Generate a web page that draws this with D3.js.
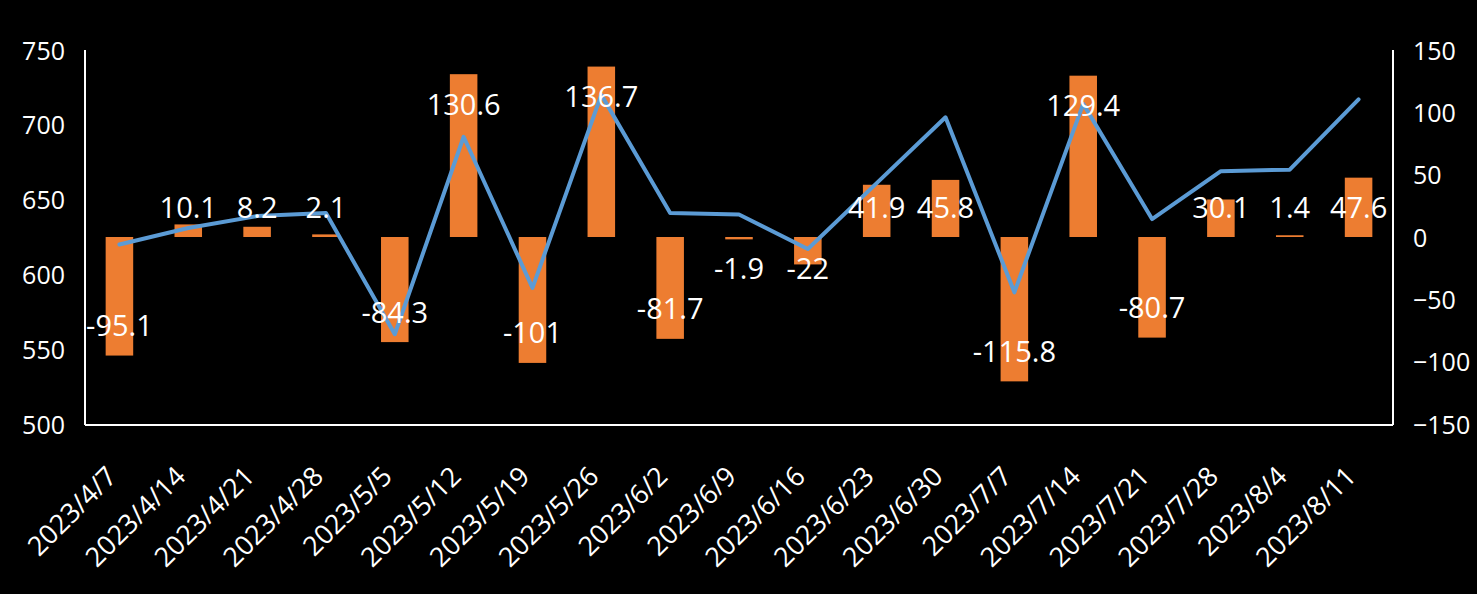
<!DOCTYPE html>
<html>
<head>
<meta charset="utf-8">
<script src="https://cdn.jsdelivr.net/npm/d3@7"></script>
<style>
  html, body { margin: 0; padding: 0; background: #000; }
  svg { display: block; }
</style>
</head>
<body>
<svg id="chart" width="1477" height="594"></svg>
<script>
// ---- data ----
const categories = ["2023/4/7","2023/4/14","2023/4/21","2023/4/28","2023/5/5","2023/5/12","2023/5/19","2023/5/26","2023/6/2","2023/6/9","2023/6/16","2023/6/23","2023/6/30","2023/7/7","2023/7/14","2023/7/21","2023/7/28","2023/8/4","2023/8/11"];
const barValues = [-95.1, 10.1, 8.2, 2.1, -84.3, 130.6, -101, 136.7, -81.7, -1.9, -22, 41.9, 45.8, -115.8, 129.4, -80.7, 30.1, 1.4, 47.6];
const lineValues = [620, 631, 639, 641, 560, 692, 591, 720, 641, 640, 617, 661, 705, 588, 714, 637, 669, 670, 717];
const leftTicks = [500, 550, 600, 650, 700, 750];
const rightTicks = [-150, -100, -50, 0, 50, 100, 150];

// ---- layout ----
const W = 1477, H = 594;
const plot = { left: 85, right: 1393, top: 50, bottom: 424 };
const font = "'Open Sans', 'Noto Sans', sans-serif";

const svg = d3.select("#chart");
svg.append("rect").attr("width", W).attr("height", H).attr("fill", "#000");

const x = d3.scaleBand().domain(categories).range([plot.left, plot.right]).paddingInner(0.6).paddingOuter(0.3);
const yL = d3.scaleLinear().domain([500, 750]).range([plot.bottom, plot.top]);
const yR = d3.scaleLinear().domain([-150, 150]).range([plot.bottom, plot.top]);

// bars
svg.append("g").selectAll("rect").data(barValues).join("rect")
  .attr("x", (d, i) => x(categories[i]))
  .attr("width", x.bandwidth())
  .attr("y", d => Math.min(yR(d), yR(0)))
  .attr("height", d => Math.abs(yR(d) - yR(0)))
  .attr("fill", "#ED7D31");

// line
const line = d3.line()
  .x((d, i) => x(categories[i]) + x.bandwidth() / 2)
  .y(d => yL(d));
svg.append("path").datum(lineValues)
  .attr("d", line)
  .attr("fill", "none")
  .attr("stroke", "#5B9BD5")
  .attr("stroke-width", 4)
  .attr("stroke-linejoin", "round")
  .attr("stroke-linecap", "round");

// axes lines
const axisG = svg.append("g").attr("stroke", "#fff").attr("stroke-width", 2);
axisG.append("line").attr("x1", plot.left).attr("x2", plot.left).attr("y1", plot.top).attr("y2", plot.bottom + 1);
axisG.append("line").attr("x1", plot.right).attr("x2", plot.right).attr("y1", plot.top).attr("y2", plot.bottom + 1);
axisG.append("line").attr("x1", plot.left).attr("x2", plot.right).attr("y1", plot.bottom + 1).attr("y2", plot.bottom + 1);

// left ticks
const leftAxis = d3.axisLeft(yL).tickValues(leftTicks).tickSize(0).tickPadding(20);
const gl = svg.append("g").attr("transform", `translate(${plot.left},1)`).call(leftAxis);
gl.select(".domain").remove();
gl.selectAll("text").attr("fill", "#fff").style("font-family", font).style("font-size", "25px");

// right ticks
const rightAxis = d3.axisRight(yR).tickValues(rightTicks).tickSize(0).tickPadding(20);
const gr = svg.append("g").attr("transform", `translate(${plot.right},1)`).call(rightAxis);
gr.select(".domain").remove();
gr.selectAll("text").attr("fill", "#fff").style("font-family", font).style("font-size", "25px");

// x labels
svg.append("g").selectAll("text").data(categories).join("text")
  .attr("transform", d => `translate(${x(d) + x.bandwidth() / 2 - 1},${plot.bottom + 54}) rotate(-45)`)
  .attr("text-anchor", "end")
  .attr("fill", "#fff")
  .style("font-family", font)
  .style("font-size", "27px")
  .text(d => d);

// data labels
const zeroY = yR(0);
svg.append("g").selectAll("text").data(barValues).join("text")
  .attr("x", (d, i) => x(categories[i]) + x.bandwidth() / 2)
  .attr("y", d => d >= 0 ? Math.min(yR(d) + 29, zeroY - 31) : Math.max(yR(d) - 31, zeroY + 30))
  .attr("text-anchor", "middle")
  .attr("dominant-baseline", "central")
  .attr("fill", "#fff")
  .style("font-family", font)
  .style("font-size", "29px")
  .text(d => String(d));
</script>
</body>
</html>
